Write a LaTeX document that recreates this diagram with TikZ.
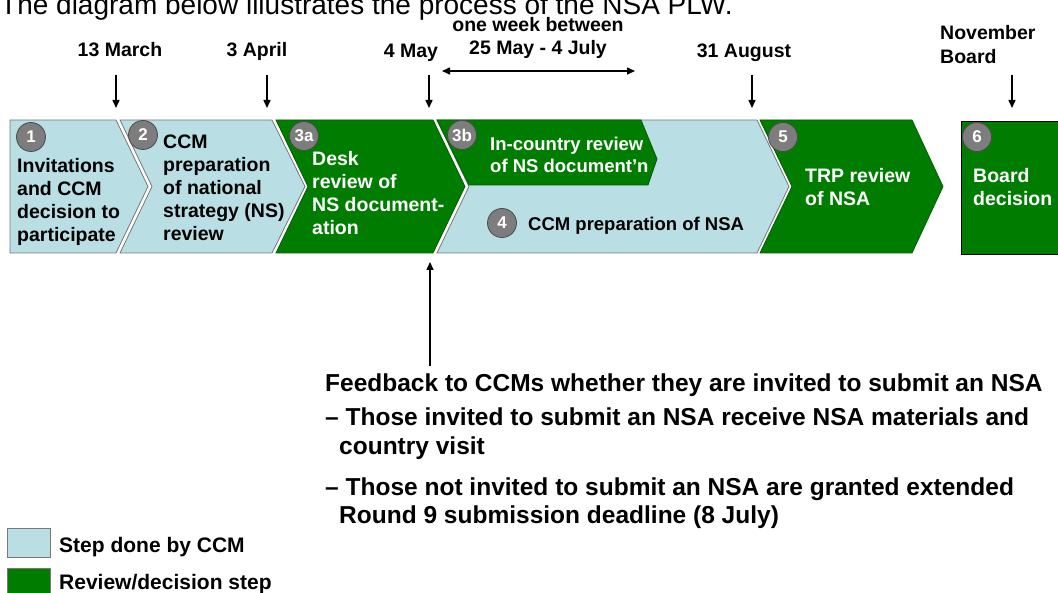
\documentclass[tikz,border=0pt]{standalone}
\usepackage{fontspec}
\setmainfont{Liberation Sans}
\usetikzlibrary{arrows.meta}

\definecolor{ccmblue}{RGB}{185,222,227}
\definecolor{revgreen}{RGB}{0,125,0}
\definecolor{numgray}{RGB}{125,125,125}
\definecolor{numedge}{RGB}{75,75,75}
\definecolor{edgegray}{RGB}{120,120,120}

% font size helper and a first-line strut for top-anchored labels
\newcommand{\setfs}[2]{\fontsize{#1}{#2}\selectfont}
\newcommand{\lnstrut}{\rule{0pt}{15pt}}
\newcommand{\lnstrutsm}{\rule{0pt}{14.5pt}}

\begin{document}
\begin{tikzpicture}[x=1pt,y=-1pt,
  ccm/.style={fill=ccmblue, draw=edgegray, line width=0.8pt},
  rev/.style={fill=revgreen, draw=revgreen!75!black, line width=0.8pt},
  num/.style={circle, fill=numgray, draw=numedge, line width=0.8pt,
    minimum size=29pt, inner sep=0pt, text=white,
    font=\setfs{17}{17}\bfseries},
  lbl/.style={anchor=north west, inner sep=0pt, align=left,
    font=\setfs{19.5}{23}\bfseries},
  lblsm/.style={anchor=north west, inner sep=0pt, align=left,
    font=\setfs{18.5}{22}\bfseries},
  datelbl/.style={anchor=base, inner sep=0pt, font=\setfs{19.5}{23}\bfseries},
  fbline/.style={anchor=base west, inner sep=0pt, font=\setfs{24.5}{28}\bfseries},
  keytext/.style={anchor=base west, inner sep=0pt, font=\setfs{21}{24}\bfseries},
  tick/.style={-{Triangle[length=8pt,width=7pt]}, line width=1.5pt},
  span/.style={{Triangle[length=8pt,width=7pt]}-{Triangle[length=8pt,width=7pt]}, line width=1.5pt}
]
\useasboundingbox (0,0) rectangle (1058,593);
\clip (0,0) rectangle (1058,593);
\fill[white] (0,0) rectangle (1058,593);

% heading line
\node[anchor=base west, inner sep=0pt, font=\setfs{28}{32}] (title) at (0,14.5)
  {The diagram below illustrates the process of the NSA PLW.};

% process chevrons
\draw[ccm] (10,120) -- (116,120) -- (148,186.5) -- (116,253) -- (10,253) -- cycle;
\draw[ccm] (120,120) -- (272,120) -- (305,186.5) -- (272,253) -- (120,253) -- (152,186.5) -- cycle;
\draw[rev] (276,120) -- (433,120) -- (465,186.5) -- (433,253) -- (276,253) -- (308,186.5) -- cycle;
\draw[ccm] (437,120) -- (757,120) -- (789,186.5) -- (757,253) -- (437,253) -- (469,186.5) -- cycle;
\draw[rev] (437,120) -- (641,120) -- (657,159) -- (648,185) -- (469,185) -- cycle;
\draw[rev] (760,120) -- (912,120) -- (943,186.5) -- (912,253) -- (760,253) -- (792,186.5) -- cycle;
\draw[rev, draw=black] (961,121) rectangle (1070,254);

% step numbers
\node[num] (n1)  at (31,137)  {1};
\node[num] (n2)  at (143,135) {2};
\node[num] (n3a) at (304,136) {3a};
\node[num] (n3b) at (462,135) {3b};
\node[num] (n4)  at (502,223) {4};
\node[num] (n5)  at (783,137) {5};
\node[num] (n6)  at (977,137) {6};

% step texts
\node[lbl] (s1) at (17,157) {\lnstrut Invitations\\and CCM\\decision to\\participate};
\node[lbl] (s2) at (163,133) {\lnstrut CCM\\preparation\\of national\\strategy (NS)\\review};
\node[lbl, text=white] (s3a) at (312,150) {\lnstrut Desk\\review of\\NS document-\\ation};
\node[lblsm, text=white] (s3b) at (490,135.5) {\lnstrutsm In-country review\\of NS document’n};
\node[lblsm] (s4) at (528,215.5) {\lnstrutsm CCM preparation of NSA};
\node[lbl, text=white] (s5) at (805,167) {\lnstrut TRP review\\of NSA};
\node[lbl, text=white] (s6) at (973,167) {\lnstrut Board\\decision};

% dates
\node[datelbl] (d1) at (120,57) {13 March};
\node[datelbl] (d2) at (257,57) {3 April};
\node[datelbl] (d3) at (411,58) {4 May};
\node[datelbl] (d4a) at (538,32) {one week between};
\node[datelbl] (d4b) at (538,55) {25 May - 4 July};
\node[datelbl] (d5) at (744,58) {31 August};
\node[lbl] (d6) at (940,24) {\lnstrut November\\[1pt]Board};

% date arrows
\coordinate (d1s) at (116,75);  \coordinate (d1e) at (116,108);
\coordinate (d2s) at (267,75);  \coordinate (d2e) at (267,108);
\coordinate (d3s) at (429,75);  \coordinate (d3e) at (429,108);
\coordinate (d5s) at (752,75);  \coordinate (d5e) at (752,108);
\coordinate (d6s) at (1012,75); \coordinate (d6e) at (1012,108);
\coordinate (spL) at (442,71);  \coordinate (spR) at (635,71);
\draw[tick] (d1s) -- (d1e);
\draw[tick] (d2s) -- (d2e);
\draw[tick] (d3s) -- (d3e);
\draw[tick] (d5s) -- (d5e);
\draw[tick] (d6s) -- (d6e);
\draw[span] (spL) -- (spR);

% feedback note
\coordinate (fbfoot) at (430,366);
\coordinate (fbtip) at (430,262);
\draw[tick] (fbfoot) -- (fbtip);
\node[fbline] (fb1) at (325,392) {Feedback to CCMs whether they are invited to submit an NSA};
\node[fbline] (fb2) at (325,426) {– Those invited to submit an NSA receive NSA materials and};
\node[fbline] (fb3) at (339,455) {country visit};
\node[fbline] (fb4) at (325,495) {– Those not invited to submit an NSA are granted extended};
\node[fbline] (fb5) at (339,523) {Round 9 submission deadline (8 July)};

% legend
\draw[ccm] (7,528) rectangle (50,557);
\draw[rev, draw=edgegray] (7,568) rectangle (50,600);
\node[keytext] (k1) at (59,552) {Step done by CCM};
\node[keytext] (k2) at (59,589) {Review/decision step};
\end{tikzpicture}
\end{document}
